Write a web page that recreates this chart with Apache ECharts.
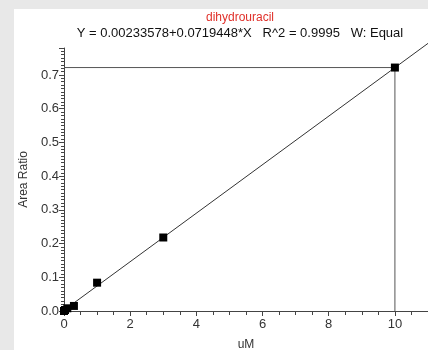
<!DOCTYPE html>
<html>
<head>
<meta charset="utf-8">
<script src="https://cdn.jsdelivr.net/npm/echarts@6/dist/echarts.min.js"></script>
<style>
html,body{margin:0;padding:0;background:#e8e8e8;width:428px;height:350px;overflow:hidden;}
#c{position:absolute;left:14px;top:9px;width:414px;height:341px;background:#fff;}
</style>
</head>
<body>
<div id="c"></div>
<script>
// Data
const xValues = [0, 0.03, 0.1, 0.3, 1, 3, 10];
const yValues = [0.0, 0.003, 0.008, 0.015, 0.084, 0.218, 0.722];
const fitIntercept = 0.00233578;
const fitSlope = 0.0719448;
const fitXRange = [0, 11];
const refPoint = [10, 0.722];
const titleText = 'dihydrouracil';
const subText = 'Y = 0.00233578+0.0719448*X   R^2 = 0.9995   W: Equal';

const chart = echarts.init(document.getElementById('c'), null, {renderer: 'canvas'});
const font = 'Liberation Sans, Arial, sans-serif';
const axisColor = '#444';
const points = xValues.map((x, i) => [x, yValues[i]]);
const fitLine = fitXRange.map(x => [x, fitIntercept + fitSlope * x]);

chart.setOption({
  animation: false,
  textStyle: {fontFamily: font},
  title: [
    {text: titleText, left: 221, top: -2, textAlign: 'center',
     textStyle: {color: '#e0302a', fontSize: 12, fontWeight: 'normal', fontFamily: font}},
    {text: subText, left: 221, top: 13, textAlign: 'center',
     textStyle: {color: '#111', fontSize: 13, fontWeight: 'normal', fontFamily: font}}
  ],
  grid: {left: 50, right: 0, top: 39, bottom: 39, containLabel: false, outerBoundsMode: 'none'},
  xAxis: {
    type: 'value', min: 0, max: 11, interval: 2,
    name: 'uM', nameLocation: 'middle', nameGap: 28,
    nameTextStyle: {color: '#333', fontSize: 12, fontFamily: font},
    axisLine: {onZero: false, lineStyle: {color: axisColor, width: 1}},
    axisTick: {show: true, length: 5, lineStyle: {color: axisColor}},
    minorTick: {show: true, splitNumber: 4, length: 4, lineStyle: {color: axisColor}},
    axisLabel: {color: '#333', fontSize: 13, margin: 7, showMaxLabel: false, fontFamily: font},
    splitLine: {show: false}
  },
  yAxis: {
    type: 'value', min: 0, max: 0.78, interval: 0.1,
    name: 'Area Ratio', nameLocation: 'middle', nameGap: 34,
    nameTextStyle: {color: '#333', fontSize: 12, fontFamily: font},
    axisLine: {show: true, lineStyle: {color: axisColor, width: 1}},
    axisTick: {show: true, length: 5, lineStyle: {color: axisColor}},
    minorTick: {show: true, splitNumber: 10, length: 3, lineStyle: {color: axisColor}},
    axisLabel: {color: '#333', fontSize: 13, margin: 5, showMaxLabel: false, fontFamily: font,
      formatter: v => v.toFixed(1)},
    splitLine: {show: false}
  },
  series: [
    {
      type: 'line', data: fitLine, symbol: 'none', clip: false,
      lineStyle: {color: '#333', width: 1}, z: 2
    },
    {
      type: 'line', data: [[0, refPoint[1]], refPoint, [refPoint[0], 0]], symbol: 'none',
      lineStyle: {color: '#555', width: 1}, z: 1
    },
    {
      type: 'scatter', data: points, symbol: 'rect', symbolSize: 8,
      itemStyle: {color: '#000', opacity: 1}, z: 3
    }
  ]
});
</script>
</body>
</html>
